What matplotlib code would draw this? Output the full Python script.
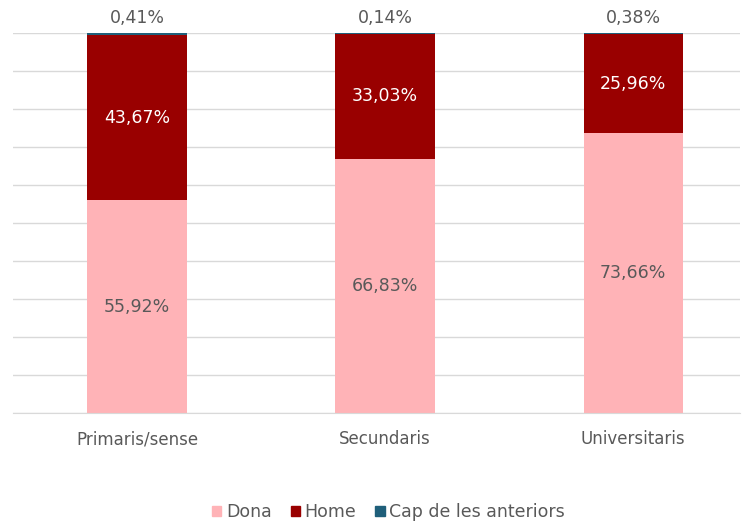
import numpy as np
import matplotlib.pyplot as plt
from matplotlib.patches import Patch

categories = ['Primaris/sense', 'Secundaris', 'Universitaris']
dona = [55.92, 66.83, 73.66]
home = [43.67, 33.03, 25.96]
cap = [0.41, 0.14, 0.38]
series_names = ['Dona', 'Home', 'Cap de les anteriors']

c_dona = '#ffb3b7'
c_home = '#990000'
c_cap = '#1f5f7a'
txt = '#595959'

def fmt(v):
    return ('%.2f' % v).replace('.', ',') + '%'

fig = plt.figure(figsize=(7.47, 5.24), dpi=100)
ax = fig.add_axes([0.0174, 0.212, 0.973, 0.725])

x = np.arange(len(categories))
w = 0.4
dona = np.array(dona)
home = np.array(home)
cap = np.array(cap)

ax.bar(x, dona, w, color=c_dona, zorder=2)
ax.bar(x, home, w, bottom=dona, color=c_home, zorder=2)
ax.bar(x, cap, w, bottom=dona + home, color=c_cap, zorder=2)

for i in range(len(x)):
    ax.text(x[i], dona[i] / 2, fmt(dona[i]), ha='center', va='center',
            fontsize=12.5, color=txt)
    ax.text(x[i], dona[i] + home[i] / 2, fmt(home[i]), ha='center', va='center',
            fontsize=12.5, color='white')
    ax.text(x[i], 104, fmt(cap[i]), ha='center', va='center',
            fontsize=12.5, color=txt, clip_on=False)

ax.set_ylim(0, 100)
ax.set_xlim(-0.5, 2.43)
ax.set_yticks(np.arange(0, 101, 10))
ax.yaxis.grid(True, color='#d9d9d9', linewidth=1, zorder=0)
ax.tick_params(axis='y', left=False, labelleft=False)
ax.tick_params(axis='x', bottom=False, labelsize=12, colors=txt, pad=9)
ax.set_xticks(x)
ax.set_xticklabels(categories)
for s in ['top', 'right', 'left']:
    ax.spines[s].set_visible(False)
ax.spines['bottom'].set_color('#d9d9d9')

handles = [Patch(color=c) for c in [c_dona, c_home, c_cap]]
fig.legend(handles, series_names, loc='center', bbox_to_anchor=(0.52, 0.023),
           ncol=3, frameon=False, fontsize=12.5, handlelength=0.55, handleheight=0.55,
           handletextpad=0.25, columnspacing=1.1, labelcolor=txt)

fig.savefig('out.png', dpi=100)
